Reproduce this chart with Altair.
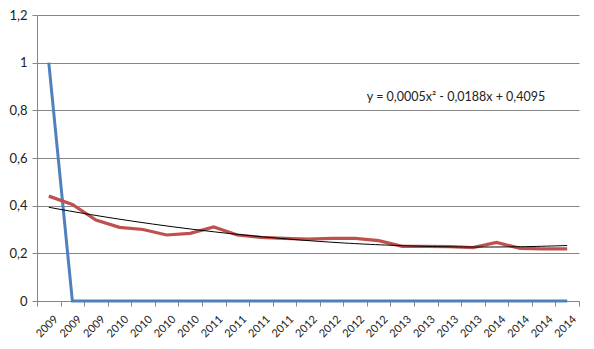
import altair as alt
import pandas as pd

years = ["2009", "2009", "2009",
         "2010", "2010", "2010", "2010",
         "2011", "2011", "2011", "2011",
         "2012", "2012", "2012", "2012",
         "2013", "2013", "2013", "2013",
         "2014", "2014", "2014", "2014"]
idx = list(range(1, len(years) + 1))
blue = [1.0] + [0.0] * 22
red = [0.44, 0.405, 0.34, 0.309, 0.30, 0.277, 0.284, 0.311, 0.277, 0.267, 0.263,
       0.26, 0.263, 0.263, 0.253, 0.229, 0.229, 0.228, 0.224, 0.246, 0.221, 0.219, 0.219]
y_ticks = [0, 0.2, 0.4, 0.6, 0.8, 1.0, 1.2]
equation = "y = 0,0005x² - 0,0188x + 0,4095"

df = pd.DataFrame({"idx": idx, "year": years, "blue": blue, "red": red})

n = len(years)
boundaries = [i + 0.5 for i in range(0, n + 1)]  # 0.5 ... 23.5
year_js = "[" + ",".join(f"'{y}'" for y in years) + "]"
label_expr = f"{year_js}[round(datum.value) - 1]"

FONT = "Lato"
GRID = "#868686"
x_scale = alt.Scale(domain=[0.5, n + 0.5], nice=False, zero=False)

label_axis = alt.Axis(
    orient="bottom",
    values=idx,
    labelExpr=label_expr,
    labelAngle=-45,
    labelAlign="right",
    labelBaseline="top",
    labelOverlap=False,
    labelFlush=False,
    labelPadding=12,
    labelOffset=3,
    ticks=False,
    domain=True,
    domainColor=GRID,
    grid=False,
    title=None,
    labelFont=FONT,
    labelFontSize=11,
    labelColor="#222222",
)
tick_axis = alt.Axis(
    orient="bottom",
    values=boundaries,
    labels=False,
    ticks=True,
    tickSize=5,
    tickColor=GRID,
    domain=False,
    grid=False,
    title=None,
)

y_axis = alt.Axis(
    values=y_ticks,
    labelExpr="replace(format(datum.value, '.1~f'), '.', ',')",
    tickSize=5,
    tickColor=GRID,
    domainColor=GRID,
    gridColor=GRID,
    grid=True,
    labelPadding=5,
    title=None,
    labelFont=FONT,
    labelFontSize=13,
    labelColor="#222222",
)
y_scale = alt.Scale(domain=[0, 1.2], nice=False)

base = alt.Chart(df)

blue_line = base.mark_line(color="#4F81BD", strokeWidth=3).encode(
    x=alt.X("idx:Q", scale=x_scale, axis=label_axis),
    y=alt.Y("blue:Q", scale=y_scale, axis=y_axis),
)
red_line = base.mark_line(color="#C0504D", strokeWidth=3.2).encode(
    x=alt.X("idx:Q", scale=x_scale, axis=tick_axis),
    y=alt.Y("red:Q", scale=y_scale),
)
trend = base.transform_regression("idx", "red", method="poly", order=2).mark_line(
    color="black", strokeWidth=1
).encode(
    x=alt.X("idx:Q", scale=x_scale, axis=None),
    y=alt.Y("red:Q", scale=y_scale),
)

label = alt.Chart(pd.DataFrame({"t": [equation]})).mark_text(
    font=FONT, fontSize=12.5, color="#222222", align="center", baseline="middle"
).encode(text="t:N", x=alt.value(419), y=alt.value(82))

chart = (
    alt.layer(blue_line, red_line, trend, label)
    .resolve_axis(x="independent")
    .properties(
        width=542,
        height=286,
        autosize=alt.AutoSizeParams(type="none"),
        padding={"left": 29, "top": 7, "right": 7, "bottom": 40},
    )
    .configure_view(stroke=None)
)

chart.save("out.html", embed_options={"renderer": "svg", "actions": False})
